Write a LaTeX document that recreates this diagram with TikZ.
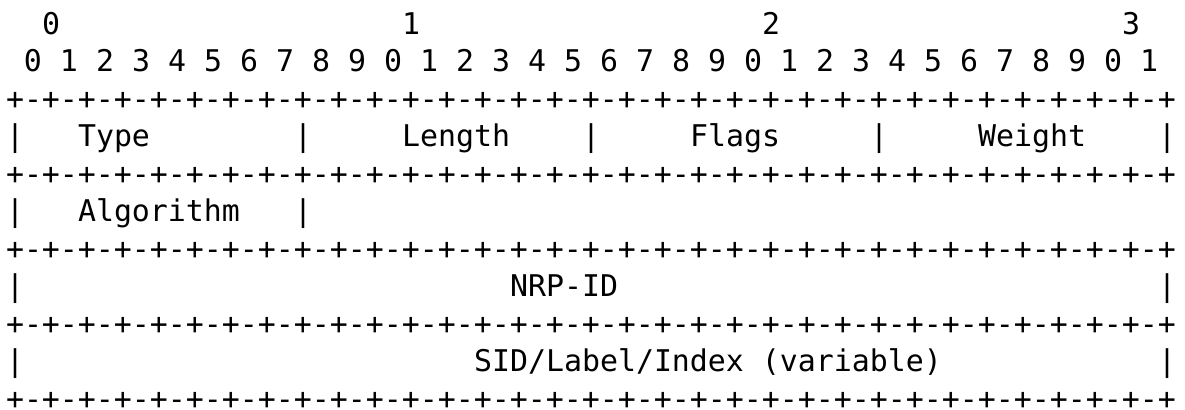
\documentclass[tikz,border=0pt]{standalone}
\usepackage{fontspec}
\setmonofont{DejaVu Sans Mono}
\newcommand\plusrowtext{+-+-+-+-+-+-+-+-+-+-+-+-+-+-+-+-+-+-+-+-+-+-+-+-+-+-+-+-+-+-+-+-+}
\newcommand\atcol[4]{\node[txt] (#1) at ({6+18*#2},{34.2+37.5*#3}) {#4};}
\begin{document}
\begin{tikzpicture}[x=0.5pt,y=-0.5pt,
  txt/.style={inner sep=0pt, outer sep=0pt, anchor=base west, text=black,
    font=\ttfamily\fontsize{14.95pt}{18pt}\selectfont}]
\useasboundingbox (0,0) rectangle (1185,410);
% header decades
\atcol{h0}{2}{0}{0}
\atcol{h1}{22}{0}{1}
\atcol{h2}{42}{0}{2}
\atcol{h3}{62}{0}{3}
% bit numbers
\foreach \i in {0,...,31}{
  \pgfmathtruncatemacro\dg{mod(\i,10)}
  \pgfmathtruncatemacro\cc{1+2*\i}
  \atcol{b\i}{\cc}{1}{\dg}
}
% separator rows
\atcol{r2}{0}{2}{\plusrowtext}
\atcol{r4}{0}{4}{\plusrowtext}
\atcol{r6}{0}{6}{\plusrowtext}
\atcol{r8}{0}{8}{\plusrowtext}
\atcol{r10}{0}{10}{\plusrowtext}
% row 3
\atcol{v30}{0}{3}{|}
\atcol{type}{4}{3}{Type}
\atcol{v31}{16}{3}{|}
\atcol{length}{22}{3}{Length}
\atcol{v32}{32}{3}{|}
\atcol{flags}{38}{3}{Flags}
\atcol{v33}{48}{3}{|}
\atcol{weight}{54}{3}{Weight}
\atcol{v34}{64}{3}{|}
% row 5
\atcol{v50}{0}{5}{|}
\atcol{algo}{4}{5}{Algorithm}
\atcol{v51}{16}{5}{|}
% row 7
\atcol{v70}{0}{7}{|}
\atcol{nrpid}{28}{7}{NRP-ID}
\atcol{v71}{64}{7}{|}
% row 9
\atcol{v90}{0}{9}{|}
\atcol{sid}{26}{9}{SID/Label/Index (variable)}
\atcol{v91}{64}{9}{|}
\end{tikzpicture}
\end{document}
